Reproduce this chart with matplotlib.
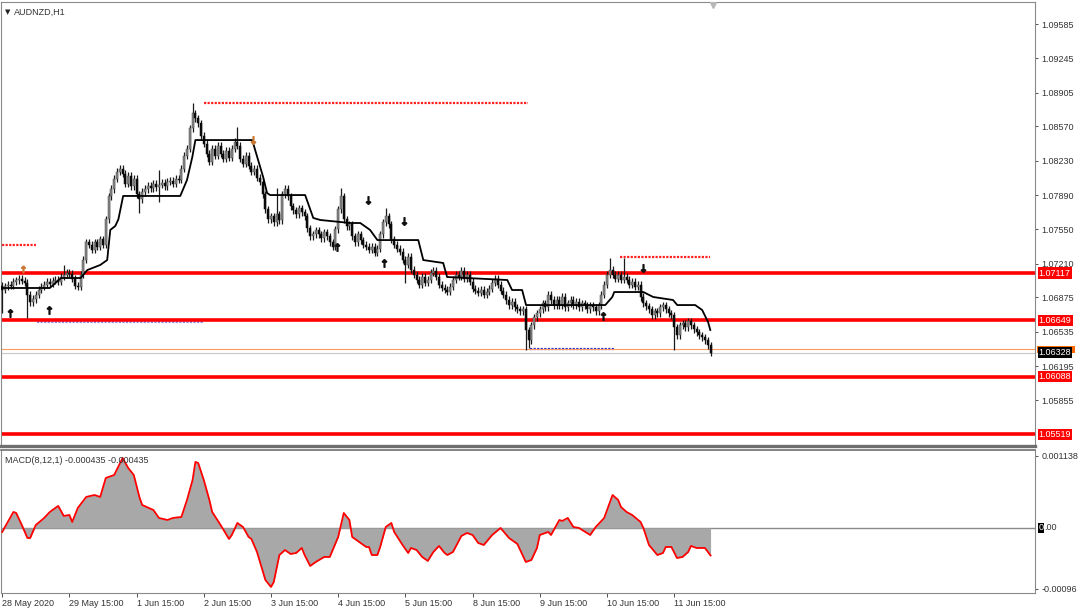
"""
AUDNZD H1 chart (MetaTrader style): candles, trailing line, S/R levels and a MACD pane.
Saves out.png (1080x608).
"""
import numpy as np
import matplotlib
matplotlib.use("Agg")
import matplotlib.pyplot as plt
import matplotlib.transforms as mtransforms
from matplotlib.patches import Rectangle

plt.rcParams['font.family'] = ['Liberation Sans', 'DejaVu Sans']

BASE = 1.05      # candle / line values below are points (1e-5) above this price
PT = 1e-5

# hourly closes, 28 May 15:00 .. 12 Jun 04:00
close_pts = [
    1950, 1985, 2000, 1990, 2030, 2045, 2060,
    2040, 2020,
    1900, 1830, 1860,
    1900, 1950, 1980, 2000,
    2030, 2010, 2040, 2050, 2030,
    2080, 2100, 2120, 2110,
    2060, 1990, 1980,
    2100, 2250, 2420, 2400,
    2350, 2420, 2380, 2450, 2400,
    2650, 2880,
    2950, 3050, 3120, 3150,
    3100, 3000, 3080, 2980, 3050,
    2900, 2850, 2920,
    2950, 2980, 2960, 3000, 2970, 2990, 3010, 2980, 3020, 3030,
    3000, 3050, 3040,
    3150, 3280, 3350,
    3550, 3700, 3650,
    3600, 3480,
    3400, 3300, 3220,
    3350, 3280, 3380, 3300, 3250, 3330, 3260,
    3350, 3420, 3380,
    3250, 3200, 3280, 3180,
    3120, 3150, 3060, 3020,
    2900, 2750, 2650,
    2680, 2620, 2700, 2640,
    2900, 2950, 2880,
    2780, 2740, 2700, 2760, 2720, 2680,
    2560, 2480, 2500,
    2540, 2500, 2460, 2520, 2480, 2420, 2380,
    2550, 2750, 2880,
    2650, 2580, 2600,
    2480, 2420, 2500, 2440, 2400, 2380, 2350,
    2380, 2320, 2360,
    2500, 2620, 2680, 2600,
    2450, 2400, 2360, 2330,
    2250, 2200, 2280,
    2150, 2100, 2050, 2000, 2080, 2020,
    2050, 2120, 2140, 2080, 2000,
    1970, 1950, 1930, 1980, 2050,
    2100, 2080, 2140, 2060, 2100, 2030,
    1960, 1940, 1920, 1950, 1900, 1930, 1960,
    2020, 2060, 2000, 1940,
    1900, 1850, 1800, 1830, 1780,
    1760, 1740, 1760,
    1550, 1450, 1600,
    1680, 1720, 1760,
    1820, 1780, 1900, 1850, 1800,
    1850, 1800, 1880, 1780, 1820,
    1850, 1800, 1830, 1780, 1820, 1800, 1760, 1800, 1780, 1740, 1800,
    1900, 2000, 2100,
    2150, 2100,
    2060, 2100, 2050, 2080,
    2050, 2000, 2030, 1980, 2000,
    1880, 1820, 1790,
    1760, 1700, 1740, 1720, 1780,
    1800, 1760, 1720, 1700,
    1580, 1500, 1600,
    1620, 1580, 1640, 1600, 1560,
    1530, 1500, 1480,
    1450, 1400, 1328,
]
first_open = 1990
WICK = 35  # usual wick length in points

# the long shadows that stand out
spike_high = {22: 2200, 56: 3140, 68: 3800, 84: 3565, 98: 2960, 121: 2960,
              137: 2760, 217: 2270, 222: 2270}
spike_low = {0: 1720, 9: 1670, 49: 2715, 56: 2820, 144: 2020, 187: 1355,
             188: 1370, 240: 1355}

# black trailing line (vertices: bar index, points)
line_bar = [0, 17, 21, 28, 30.4, 35, 37.5, 38.6, 40.4, 41.5, 43.2, 63.6, 66,
            67.9, 69, 89.3, 91.4, 93.2, 94.6, 95.7, 108.2, 111.1, 113.6, 124.3,
            127.9, 131.4, 134, 148.6, 150.4, 157.5, 158.9, 166, 180.4, 182.1,
            185.7, 187.1, 215.4, 217.9, 218.6, 229, 232.5, 239.6, 241.1, 247.5,
            250, 252.1, 252.9]
line_pts = [1969, 1969, 2068, 2068, 2147, 2197, 2246, 2544, 2584, 2650, 2881,
            2881, 3039, 3267, 3435, 3435, 3237, 3069, 2910, 2890, 2890, 2663,
            2643, 2613, 2613, 2544, 2444, 2444, 2246, 2217, 2078, 2068, 2048,
            1949, 1949, 1800, 1800, 1880, 1929, 1929, 1880, 1850, 1800, 1800,
            1751, 1632, 1553]

# signal arrows (bar index, points)
up_bar = [2.9, 16.8, 119.6, 136.4, 214.6]
up_pts = [1721, 1751, 2375, 2217, 1691]
down_bar = [130.7, 143.6, 228.9]
down_pts = [2841, 2633, 2167]
mark_up = (7.5, 2157)
mark_down = (89.6, 3435)

# horizontal levels
levels = [1.07117, 1.06649, 1.06088, 1.05519]
red_dotted = [(72.1, 187.9, 1.08802), (0, 12.1, 1.07395), (220.7, 252.9, 1.07276)]
blue_dotted = [(12.5, 72, 1.06632, '#8c8cf0'), (188.6, 218.6, 1.06364, '#2a2ad0')]
bid = 1.06328
ask = 1.06364

price_ticks = [1.09585, 1.09245, 1.08905, 1.08570, 1.08230, 1.07890, 1.07550,
               1.07210, 1.06875, 1.06535, 1.06195, 1.05855]

# MACD(8,12,1) main line (vertices: bar index, value in 1e-6)
macd_bar = [0, 1, 4, 5, 7, 9, 10, 12, 15, 17, 20, 22, 24, 25, 27, 30, 33, 35,
            37, 40, 43, 45, 47, 49, 50, 54, 56, 59, 61, 64, 66, 68, 69, 70, 72,
            74, 75, 78, 81, 82, 84, 86, 88, 89, 91, 94, 96, 97, 99, 101, 103,
            105, 107, 108, 110, 112, 115, 117, 120, 122, 124, 125, 128, 130,
            131, 132, 134, 135, 137, 139, 140, 143, 145, 146, 148, 150, 152,
            154, 156, 158, 159, 161, 164, 166, 168, 170, 172, 175, 178, 181,
            184, 187, 189, 191, 192, 193, 195, 196, 199, 200, 202, 204, 206,
            210, 212, 215, 218, 220, 221, 223, 225, 228, 229, 231, 234, 236,
            237, 239, 241, 243, 245, 246, 248, 251, 253]
macd_val = [-63, 16, 253, 237, 47, -158, -158, 47, 158, 253, 348, 190, 205, 95,
            316, 490, 521, 490, 790, 837, 1106, 948, 837, 490, 363, 284, 158,
            126, 158, 174, 442, 758, 1043, 1027, 758, 442, 253, 47, -174, -111,
            79, 16, -142, -174, -379, -822, -932, -853, -427, -348, -411, -395,
            -316, -427, -600, -537, -458, -458, -142, 237, 126, -142, -237,
            -300, -300, -427, -427, -300, 16, 79, -63, -269, -395, -316, -348,
            -458, -521, -379, -284, -395, -427, -379, -126, -79, -111, -237,
            -269, -111, 0, -158, -253, -537, -506, -316, -111, -95, -63, -111,
            126, 111, 158, 16, 0, -111, 16, 158, 521, 442, 332, 253, 205, 95, 0,
            -269, -427, -395, -300, -300, -474, -458, -379, -284, -316, -316,
            -435]
macd_ticks = [0.001138, -0.00096]
macd_tick_labels = ["0.001138", "-0.00096"]

time_labels = ["28 May 2020", "29 May 15:00", "1 Jun 15:00", "2 Jun 15:00",
               "3 Jun 15:00", "4 Jun 15:00", "5 Jun 15:00", "8 Jun 15:00",
               "9 Jun 15:00", "10 Jun 15:00", "11 Jun 15:00"]
BARS_PER_LABEL = 24

TXT = '#333333'
FRAME = '#8a8a8a'
FS = 6.5


def px(pts):
    return BASE + np.asarray(pts, dtype=float) * PT


def right_label(ax, y, text, face, fg='white'):
    tr = mtransforms.blended_transform_factory(ax.transAxes, ax.transData)
    ax.text(1.0035, y, text, transform=tr, ha='left', va='center', fontsize=FS,
            color=fg, clip_on=False, zorder=10,
            bbox=dict(boxstyle='square,pad=0.12', fc=face, ec='none'))


fig = plt.figure(figsize=(10.8, 6.08), dpi=100)
ax = fig.add_axes([0.001, 0.2664, 0.9574, 0.7303])
ax2 = fig.add_axes([0.001, 0.0247, 0.9574, 0.2352], sharex=ax)

# ---- candles
close = px(close_pts)
n = len(close)
x = np.arange(n)
opens = np.concatenate([[px(first_open)], close[:-1]])
high = np.maximum(opens, close) + WICK * PT
low = np.minimum(opens, close) - WICK * PT
for i, v in spike_high.items():
    high[i] = px(v)
for i, v in spike_low.items():
    low[i] = px(v)

ax.vlines(x, low, high, color='#1a1a1a', lw=0.9, zorder=3)
bull = close >= opens
body_lo = np.minimum(opens, close)
body_h = np.maximum(np.abs(close - opens), 8 * PT)
ax.bar(x[bull], body_h[bull], bottom=body_lo[bull], width=0.75,
       color='#8a8a8a', edgecolor='#444444', linewidth=0.35, zorder=4)
ax.bar(x[~bull], body_h[~bull], bottom=body_lo[~bull], width=0.75,
       color='#0a0a0a', edgecolor='#0a0a0a', linewidth=0.35, zorder=4)

ax.plot(line_bar, px(line_pts), color='black', lw=1.3, zorder=5)

# ---- levels
for lv in levels:
    ax.axhline(lv, color='#ff0000', lw=2.6, zorder=2)
    right_label(ax, lv, f"{lv:.5f}", '#ff0000')
for x0, x1, lv in red_dotted:
    ax.hlines(lv, x0, x1, color='#ff2020', lw=1.6, linestyles=(0, (1, 0.6)), zorder=2)
for x0, x1, lv, c in blue_dotted:
    ax.hlines(lv, x0, x1, color=c, lw=1.6, linestyles=(0, (1, 0.6)), zorder=1)
ax.axhline(ask, color='#ff9a60', lw=0.8, zorder=1)
ax.axhline(bid, color='#c8c8c8', lw=0.8, zorder=1)
# ask tag, mostly hidden behind the bid tag
tr = mtransforms.blended_transform_factory(ax.transAxes, ax.transData)
ax.add_patch(Rectangle((1.0015, bid), 0.0375, 0.00068, transform=tr,
                       fc='#ff6a00', ec='none', clip_on=False, zorder=9))
right_label(ax, bid, f"{bid:.5f}", '#000000')

# ---- arrows
ax.scatter(up_bar, px(up_pts), marker=r'$\uparrow$', s=30, color='#111111', zorder=6)
ax.scatter(down_bar, px(down_pts), marker=r'$\downarrow$', s=30, color='#111111', zorder=6)
ax.scatter([mark_up[0]], [px(mark_up[1])], marker=r'$\uparrow$', s=22, color='#c87830', zorder=6)
ax.scatter([mark_down[0]], [px(mark_down[1])], marker=r'$\downarrow$', s=30, color='#c87830', zorder=6)

ax.set_xlim(-0.4, 368.9)
ax.set_ylim(1.05403, 1.09803)

ax.yaxis.tick_right()
ax.set_yticks(price_ticks)
ax.set_yticklabels([f"{t:.5f}" for t in price_ticks])
ax.tick_params(axis='y', length=2.5, width=0.6, pad=2, labelsize=FS,
               colors=TXT)
ax.tick_params(axis='x', bottom=False, labelbottom=False)
for s in ax.spines.values():
    s.set_color(FRAME)
    s.set_linewidth(0.8)
ax.spines['bottom'].set_linewidth(2.4)
ax.spines['bottom'].set_color('#6e6e6e')

ax.text(0.004, 0.985, "\u25BC", transform=ax.transAxes, fontsize=5,
        color='#222222', va='top', ha='left', family=['DejaVu Sans'])
ax.text(0.0125, 0.988, "AUDNZD,H1", transform=ax.transAxes, fontsize=FS,
        color=TXT, va='top', ha='left')
ax.plot([254], [1.09775], marker='v', ms=5, color='#b8b8b8', zorder=8)

# ---- MACD pane
mb = np.asarray(macd_bar, dtype=float)
mv = np.asarray(macd_val, dtype=float) * 1e-6
ax2.fill_between(mb, 0, mv, color='#a8a8a8', lw=0, zorder=2)
ax2.plot(mb, mv, color='#ff0000', lw=1.3, zorder=3)
ax2.axhline(0, color='#8a8a8a', lw=1.0, zorder=1)
ax2.set_ylim(-0.001027, 0.001232)

ax2.yaxis.tick_right()
ax2.set_yticks(macd_ticks)
ax2.set_yticklabels(macd_tick_labels)
ax2.tick_params(axis='y', length=2.5, width=0.6, pad=2, labelsize=FS,
                colors=TXT)
# zero label: MT4 highlights its first digit
tr2 = mtransforms.blended_transform_factory(ax2.transAxes, ax2.transData)
ax2.text(1.0035, 0.0, "0", transform=tr2, ha='left', va='center', fontsize=FS,
         color='white', clip_on=False, zorder=10,
         bbox=dict(boxstyle='square,pad=0.08', fc='black', ec='none'))
ax2.text(1.0092, 0.0, ".00", transform=tr2, ha='left', va='center', fontsize=FS,
         color=TXT, clip_on=False, zorder=10)

ax2.set_xticks(np.arange(len(time_labels)) * BARS_PER_LABEL)
ax2.set_xticklabels(time_labels, ha='left')
ax2.tick_params(axis='x', length=3, width=0.6, pad=1.5, labelsize=FS,
                colors=TXT)
for s in ax2.spines.values():
    s.set_color(FRAME)
    s.set_linewidth(0.8)
ax2.spines['top'].set_color('#6e6e6e')
ax2.spines['top'].set_linewidth(1.2)

ax2.text(0.004, 0.96, "MACD(8,12,1) -0.000435 -0.000435", transform=ax2.transAxes,
         fontsize=FS, color=TXT, va='top', ha='left')

fig.savefig("out.png", dpi=100, facecolor='white')
